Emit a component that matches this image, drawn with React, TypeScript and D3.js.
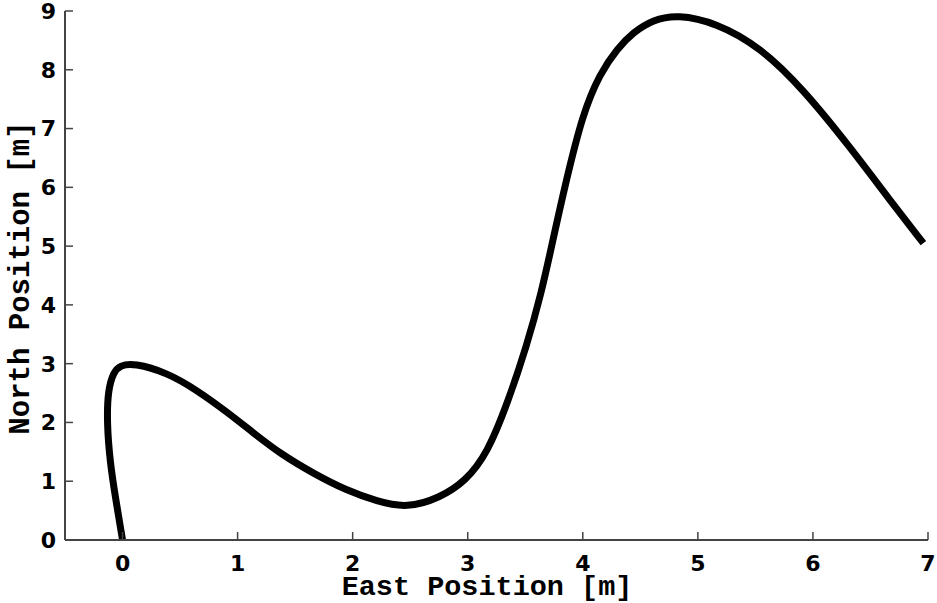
import React from "react";
import * as d3 from "d3";

const eastPos = [0, -0.063, -0.107, -0.136, -0.127, -0.078, -0.02, 0.096, 0.386, 0.646, 0.907, 1.138, 1.37, 1.66, 1.95, 2.21, 2.47, 2.76, 2.98, 3.17, 3.35, 3.51, 3.64, 3.74, 3.85, 4.0, 4.15, 4.3, 4.44, 4.61, 4.82, 5.16, 5.54, 5.92, 6.32, 6.67, 6.96];
const northPos = [0, 0.74, 1.3, 1.99, 2.55, 2.86, 2.97, 3.01, 2.85, 2.55, 2.18, 1.82, 1.47, 1.13, 0.84, 0.66, 0.54, 0.72, 1.0, 1.47, 2.35, 3.29, 4.2, 5.1, 6.07, 7.26, 7.94, 8.36, 8.64, 8.85, 8.94, 8.8, 8.39, 7.66, 6.69, 5.78, 5.05];
const xTicks = [0, 1, 2, 3, 4, 5, 6, 7];
const yTicks = [0, 1, 2, 3, 4, 5, 6, 7, 8, 9];
const xLabel = "East Position [m]";
const yLabel = "North Position [m]";

export default function App() {
  const W = 937, H = 603;
  const left = 65, right = 928, top = 11, bottom = 540;
  const x = d3.scaleLinear().domain([-0.5, 7]).range([left, right]);
  const y = d3.scaleLinear().domain([0, 9]).range([bottom, top]);
  const pts = eastPos.map((e, i) => [e, northPos[i]] as [number, number]);
  const line = d3.line<[number, number]>()
    .x(d => x(d[0]))
    .y(d => y(d[1]))
    .curve(d3.curveBasis);
  const axisColor = "#444";
  const tickFont = "'DejaVu Sans', sans-serif";
  const labelFont = "'Courier New', 'Nimbus Mono PS', 'FreeMono', Courier, 'Liberation Mono', monospace";
  return (
    <svg width={W} height={H} style={{ position: "absolute", left: 0, top: 0, background: "#fff" }}>
      <rect x={0} y={0} width={W} height={H} fill="#fff" />
      <path d={line(pts) || ""} fill="none" stroke="#000" strokeWidth={7} strokeLinejoin="round" />
      <line x1={left} x2={left} y1={top} y2={bottom} stroke={axisColor} strokeWidth={2} />
      <line x1={left} x2={right} y1={bottom} y2={bottom} stroke={axisColor} strokeWidth={2} />
      {xTicks.map(t => (
        <g key={"x" + t}>
          <line x1={x(t)} x2={x(t)} y1={bottom} y2={bottom - 8} stroke={axisColor} strokeWidth={1.5} />
          <text x={x(t)} y={571} textAnchor="middle" fontFamily={tickFont} fontWeight="bold" fontSize={22} fill="#000">{t}</text>
        </g>
      ))}
      {yTicks.map(t => (
        <g key={"y" + t}>
          <line x1={left} x2={left + 8} y1={y(t)} y2={y(t)} stroke={axisColor} strokeWidth={1.5} />
          <text x={56} y={y(t)} dy="0.36em" textAnchor="end" fontFamily={tickFont} fontWeight="bold" fontSize={22} fill="#000">{t}</text>
        </g>
      ))}
      <text x={487} y={595} textAnchor="middle" fontFamily={labelFont} fontWeight="bold" fontSize={28.5} fill="#000">{xLabel}</text>
      <text transform={`translate(29, ${278}) rotate(-90)`} textAnchor="middle" fontFamily={labelFont} fontWeight="bold" fontSize={29} fill="#000">{yLabel}</text>
    </svg>
  );
}
